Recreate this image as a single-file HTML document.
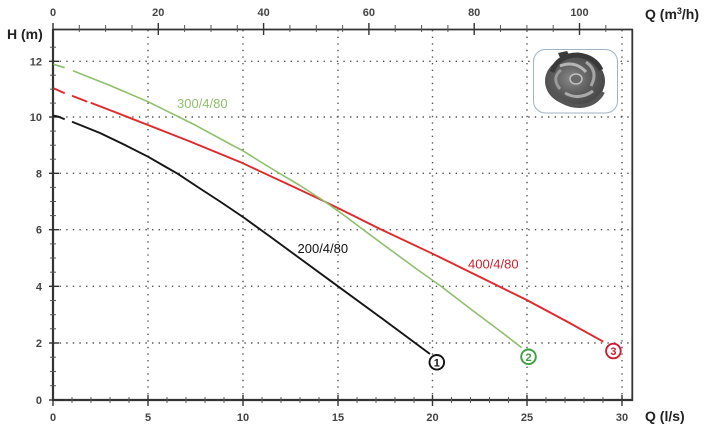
<!DOCTYPE html>
<html>
<head>
<meta charset="utf-8">
<style>
  html,body{margin:0;padding:0;background:#fff;}
  svg{display:block;}
  text{font-family:"Liberation Sans",Arial,sans-serif;}
</style>
</head>
<body>
<svg width="707" height="428" viewBox="0 0 707 428" xmlns="http://www.w3.org/2000/svg">
  <defs>
    <radialGradient id="imp" cx="45%" cy="45%" r="60%">
      <stop offset="0" stop-color="#8a8a8a"/>
      <stop offset="0.5" stop-color="#5e5e5e"/>
      <stop offset="1" stop-color="#444"/>
    </radialGradient>
  </defs>
  <rect width="707" height="428" fill="#fff"/>

  <!-- gridlines -->
  <g stroke="#555" stroke-width="1.4" stroke-dasharray="1.4 5.2" fill="none">
    <line x1="53" y1="61.3" x2="632" y2="61.3"/>
    <line x1="53" y1="117" x2="632" y2="117"/>
    <line x1="53" y1="173.3" x2="632" y2="173.3"/>
    <line x1="53" y1="229.7" x2="632" y2="229.7"/>
    <line x1="53" y1="286.3" x2="632" y2="286.3"/>
    <line x1="53" y1="343" x2="632" y2="343"/>
    <line x1="148" y1="30" x2="148" y2="400"/>
    <line x1="243" y1="30" x2="243" y2="400"/>
    <line x1="338" y1="30" x2="338" y2="400"/>
    <line x1="432.5" y1="30" x2="432.5" y2="400"/>
    <line x1="527" y1="30" x2="527" y2="400"/>
    <line x1="622" y1="30" x2="622" y2="400"/>
  </g>

  <!-- axes frame -->
  <g stroke="#333" fill="none">
    <line x1="53" y1="29" x2="53" y2="401" stroke-width="2.2"/>
    <line x1="52" y1="400" x2="633" y2="400" stroke-width="2.2"/>
    <line x1="53" y1="29.5" x2="633" y2="29.5" stroke-width="1.8"/>
    <line x1="632.3" y1="29" x2="632.3" y2="401" stroke-width="1.8"/>
  </g>

  <!-- left axis ticks -->
  <g stroke="#333" stroke-width="1.4">
    <line x1="49" y1="61.3" x2="59" y2="61.3"/>
    <line x1="49" y1="117" x2="59" y2="117"/>
    <line x1="49" y1="173.3" x2="59" y2="173.3"/>
    <line x1="49" y1="229.7" x2="59" y2="229.7"/>
    <line x1="49" y1="286.3" x2="59" y2="286.3"/>
    <line x1="49" y1="343" x2="59" y2="343"/>
    <line x1="49" y1="400" x2="59" y2="400"/>
  </g>
  <g stroke="#555" stroke-width="1">
    <line x1="50" y1="47.2" x2="56" y2="47.2"/>
    <line x1="50" y1="75.2" x2="56" y2="75.2"/>
    <line x1="50" y1="89.2" x2="56" y2="89.2"/>
    <line x1="50" y1="103.1" x2="56" y2="103.1"/>
    <line x1="50" y1="131.1" x2="56" y2="131.1"/>
    <line x1="50" y1="145.2" x2="56" y2="145.2"/>
    <line x1="50" y1="159.2" x2="56" y2="159.2"/>
    <line x1="50" y1="187.4" x2="56" y2="187.4"/>
    <line x1="50" y1="201.5" x2="56" y2="201.5"/>
    <line x1="50" y1="215.6" x2="56" y2="215.6"/>
    <line x1="50" y1="243.9" x2="56" y2="243.9"/>
    <line x1="50" y1="258" x2="56" y2="258"/>
    <line x1="50" y1="272.2" x2="56" y2="272.2"/>
    <line x1="50" y1="300.5" x2="56" y2="300.5"/>
    <line x1="50" y1="314.7" x2="56" y2="314.7"/>
    <line x1="50" y1="328.8" x2="56" y2="328.8"/>
    <line x1="50" y1="357.2" x2="56" y2="357.2"/>
    <line x1="50" y1="371.5" x2="56" y2="371.5"/>
    <line x1="50" y1="385.7" x2="56" y2="385.7"/>
  </g>

  <!-- bottom axis ticks -->
  <g stroke="#333" stroke-width="1.4">
    <line x1="53" y1="396" x2="53" y2="406"/>
    <line x1="148" y1="395" x2="148" y2="406"/>
    <line x1="243" y1="395" x2="243" y2="406"/>
    <line x1="338" y1="395" x2="338" y2="406"/>
    <line x1="432.5" y1="395" x2="432.5" y2="406"/>
    <line x1="527" y1="395" x2="527" y2="406"/>
    <line x1="622" y1="395" x2="622" y2="406"/>
  </g>
  <g stroke="#555" stroke-width="1">
    <line x1="72" y1="397" x2="72" y2="403"/><line x1="91" y1="397" x2="91" y2="403"/><line x1="110" y1="397" x2="110" y2="403"/><line x1="129" y1="397" x2="129" y2="403"/>
    <line x1="167" y1="397" x2="167" y2="403"/><line x1="186" y1="397" x2="186" y2="403"/><line x1="205" y1="397" x2="205" y2="403"/><line x1="224" y1="397" x2="224" y2="403"/>
    <line x1="262" y1="397" x2="262" y2="403"/><line x1="281" y1="397" x2="281" y2="403"/><line x1="300" y1="397" x2="300" y2="403"/><line x1="319" y1="397" x2="319" y2="403"/>
    <line x1="357" y1="397" x2="357" y2="403"/><line x1="376" y1="397" x2="376" y2="403"/><line x1="395" y1="397" x2="395" y2="403"/><line x1="414" y1="397" x2="414" y2="403"/>
    <line x1="451.5" y1="397" x2="451.5" y2="403"/><line x1="470.5" y1="397" x2="470.5" y2="403"/><line x1="489.5" y1="397" x2="489.5" y2="403"/><line x1="508.5" y1="397" x2="508.5" y2="403"/>
    <line x1="546" y1="397" x2="546" y2="403"/><line x1="565" y1="397" x2="565" y2="403"/><line x1="584" y1="397" x2="584" y2="403"/><line x1="603" y1="397" x2="603" y2="403"/>
  </g>

  <!-- top axis ticks -->
  <g stroke="#333" stroke-width="1.4">
    <line x1="53" y1="23" x2="53" y2="30"/>
    <line x1="158.3" y1="23" x2="158.3" y2="35"/>
    <line x1="263.6" y1="23" x2="263.6" y2="35"/>
    <line x1="368.9" y1="23" x2="368.9" y2="35"/>
    <line x1="474.2" y1="23" x2="474.2" y2="35"/>
    <line x1="579.5" y1="23" x2="579.5" y2="35"/>
  </g>
  <g stroke="#555" stroke-width="1">
    <line x1="79.3" y1="25" x2="79.3" y2="32"/><line x1="105.6" y1="25" x2="105.6" y2="32"/><line x1="132" y1="25" x2="132" y2="32"/>
    <line x1="184.6" y1="25" x2="184.6" y2="32"/><line x1="211" y1="25" x2="211" y2="32"/><line x1="237.3" y1="25" x2="237.3" y2="32"/>
    <line x1="289.9" y1="25" x2="289.9" y2="32"/><line x1="316.3" y1="25" x2="316.3" y2="32"/><line x1="342.6" y1="25" x2="342.6" y2="32"/>
    <line x1="395.2" y1="25" x2="395.2" y2="32"/><line x1="421.6" y1="25" x2="421.6" y2="32"/><line x1="447.9" y1="25" x2="447.9" y2="32"/>
    <line x1="500.5" y1="25" x2="500.5" y2="32"/><line x1="526.9" y1="25" x2="526.9" y2="32"/><line x1="553.2" y1="25" x2="553.2" y2="32"/>
    <line x1="605.8" y1="25" x2="605.8" y2="32"/>
  </g>

  <!-- tick labels -->
  <g font-size="11" font-weight="bold" fill="#444" text-anchor="middle">
    <text x="53" y="16">0</text>
    <text x="158.3" y="16">20</text>
    <text x="263.6" y="16">40</text>
    <text x="368.9" y="16">60</text>
    <text x="474.2" y="16">80</text>
    <text x="579.5" y="16">100</text>
    <text x="53" y="421">0</text>
    <text x="148" y="421">5</text>
    <text x="243" y="421">10</text>
    <text x="338" y="421">15</text>
    <text x="432.5" y="421">20</text>
    <text x="527" y="421">25</text>
    <text x="622" y="421">30</text>
  </g>
  <g font-size="11" font-weight="bold" fill="#444" text-anchor="end">
    <text x="42" y="65.3">12</text>
    <text x="42" y="121">10</text>
    <text x="42" y="177.3">8</text>
    <text x="42" y="233.7">6</text>
    <text x="42" y="290.3">4</text>
    <text x="42" y="347">2</text>
    <text x="42" y="404">0</text>
  </g>

  <!-- axis titles -->
  <text x="7" y="39" font-size="14" font-weight="bold" fill="#222">H (m)</text>
  <text x="645" y="19" font-size="14" font-weight="bold" fill="#222">Q (m<tspan font-size="9" dy="-5">3</tspan><tspan dy="5">/h)</tspan></text>
  <text x="645" y="421" font-size="14" font-weight="bold" fill="#222">Q (l/s)</text>

  <!-- impeller image -->
  <rect x="533.5" y="49.5" width="84" height="63.5" rx="12" ry="12" fill="#fff" stroke="#9fb3c3" stroke-width="1"/>
  <g>
    <ellipse cx="575" cy="81" rx="30" ry="25" fill="url(#imp)"/>
    <path d="M552 72 Q558 55 578 55 Q595 57 601 70" fill="none" stroke="#3a3a3a" stroke-width="5"/>
    <path d="M560 66 Q575 60 586 72" fill="none" stroke="#b5b5b5" stroke-width="3"/>
    <path d="M586 62 Q599 71 591 86" fill="none" stroke="#a5a5a5" stroke-width="3"/>
    <path d="M593 91 Q579 101 565 93" fill="none" stroke="#aaa" stroke-width="3"/>
    <path d="M560 89 Q551 78 561 70" fill="none" stroke="#9a9a9a" stroke-width="3"/>
    <ellipse cx="576" cy="79" rx="6" ry="5" fill="#6a6a6a" stroke="#c0c0c0" stroke-width="1.5"/>
    <path d="M550 88 Q560 106 580 106 Q596 105 603 92" fill="none" stroke="#555" stroke-width="4"/>
    <path d="M558 53 L567 51 L571 58 L561 60 Z" fill="#3a3a3a"/>
  </g>

  <!-- curves -->
  <!-- red 400/4/80 -->
  <g fill="none" stroke="#e2282b" stroke-width="1.9" stroke-linecap="butt" stroke-linejoin="round">
    <line x1="53.5" y1="88.3" x2="64.7" y2="93.3"/>
    <line x1="72" y1="95.8" x2="87.3" y2="101.7"/>
    <polyline points="90.7,102.7 118,113.3 148,125 190,141.5 243,163.3 263,172.7 295,187.5 325,201.7 352,215 380,229 431.7,253.3 480,277 526.7,300 565,320.5 603.3,341.7"/>
  </g>
  <!-- green 300/4/80 -->
  <g fill="none" stroke="#8fbf6c" stroke-width="1.6" stroke-linejoin="round">
    <line x1="53.5" y1="64.3" x2="64.7" y2="67.7"/>
    <polyline points="73,70.7 110,85.5 148,101.7 195,125 230,144 243,150.8 260,161.5 278,172.5 300,185.5 325,201.7 345,216 363,229.5 390,249.5 418,270 440,285.5 470,308.5 500,331 521.7,347.7"/>
  </g>
  <!-- black 200/4/80 -->
  <g fill="none" stroke="#151515" stroke-width="1.9" stroke-linejoin="round">
    <path d="M53.5,115.5 L58,116.5 L64.7,119.2"/>
    <polyline points="72,121.7 100,133 125,145 148,156.7 165,166.5 177,173.3 200,188.5 220,201.5 243,217 270,236.5 300,258.5 338,286.3 380,317 430,354"/>
  </g>

  <!-- curve labels -->
  <text x="177" y="108" font-size="13" fill="#8fbf6c">300/4/80</text>
  <text x="297.5" y="253" font-size="13" fill="#111">200/4/80</text>
  <text x="468" y="268.5" font-size="13" fill="#c9232f">400/4/80</text>

  <!-- end markers -->
  <g fill="#fff" stroke-width="1.9">
    <circle cx="436.8" cy="362.3" r="7.3" stroke="#111"/>
    <circle cx="528.5" cy="356.8" r="7.3" stroke="#3f9e3f"/>
    <circle cx="613.4" cy="351" r="7.3" stroke="#c81d35"/>
  </g>
  <g font-size="11" font-weight="bold" text-anchor="middle">
    <text x="436.8" y="366.3" fill="#111">1</text>
    <text x="528.5" y="360.8" fill="#3f9e3f">2</text>
    <text x="613.4" y="355" fill="#c81d35">3</text>
  </g>
</svg>
</body>
</html>
